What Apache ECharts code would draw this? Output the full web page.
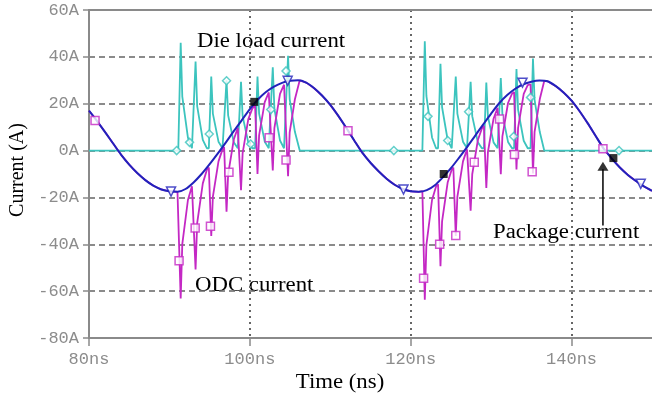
<!DOCTYPE html>
<html><head><meta charset="utf-8">
<script src="https://cdn.jsdelivr.net/npm/echarts@6/dist/echarts.min.js"></script>
<style>html,body{margin:0;padding:0;background:#fff}#c{width:652px;height:398px}</style>
</head><body><div id="c"></div>
<script>
// Package current (A) sampled every 1 ns
const pkgTime = [80,81,82,83,84,85,86,87,88,89,90,91,92,93,94,95,96,97,98,99,100,101,102,103,104,105,106,107,108,109,110,111,112,113,114,115,116,117,118,119,120,121,122,123,124,125,126,127,128,129,130,131,132,133,134,135,136,137,138,139,140,141,142,143,144,145,146,147,148,149,150];
const pkgCurrent = [17.0,12.6,7.9,3.0,-1.8,-6.0,-9.6,-12.6,-15.0,-16.6,-17.4,-17.6,-16.4,-13.6,-10.0,-5.8,-1.3,3.4,8.3,13.0,17.7,21.8,25.0,27.3,28.9,29.8,30.0,29.0,26.6,23.4,19.5,14.8,9.6,4.2,-1.0,-5.2,-8.8,-12.0,-14.6,-16.4,-17.4,-17.6,-16.9,-14.8,-11.4,-7.5,-3.1,1.5,6.3,11.1,15.8,20.2,23.7,26.4,28.3,29.4,29.9,29.6,27.6,24.8,21.3,16.8,11.7,6.2,0.8,-3.4,-7.2,-10.4,-13.0,-15.3,-17.2];

// Die load current (A)
const dieTime = [80,
 91.1,91.4,91.6,92.3,92.8, 92.95,93.25,93.45,94.15,94.65, 94.9,95.2,95.4,96.1,96.6, 96.8,97.1,97.3,98.0,98.5,
 98.6,98.9,99.1,99.8,100.3, 100.65,100.95,101.15,101.85,102.35, 102.55,102.85,103.05,103.75,104.25, 104.45,104.75,104.95,105.6,106.2,
 121.45,121.75,121.95,122.65,123.15, 123.4,123.7,123.9,124.6,125.1, 125.3,125.6,125.8,126.5,127.0, 127.15,127.45,127.65,128.35,128.85,
 129.1,129.4,129.6,130.3,130.8, 130.9,131.2,131.4,132.1,132.6, 132.85,133.15,133.35,134.05,134.55, 134.9,135.2,135.4,136.05,136.6,
 150];
const dieCurrent = [0,
 0,46,23,5.5,1, 1,38,19,4.6,1, 1,31.6,15.8,3.8,1, 1,30,15,3.6,1,
 1,29.4,14.7,3.5,1, 1,31.6,15.8,3.8,1, 1,35.5,17.8,4.3,1, 1,40.5,22,8,0,
 0,46.6,23.3,5.6,1, 1,37,18.5,4.4,1, 1,31.6,15.8,3.8,1, 1,29.4,14.7,3.5,1,
 1,29,14.5,3.5,1, 1,31,15.5,3.7,1, 1,34.8,17.4,4.2,1, 1,39.3,21.6,7.9,0,
 0];

// ODC current (A)
const odcTime = [80,81,82,83,84,85,86,87,88,89,90,91,
 91.1,91.4,91.6,92.3,92.8, 92.95,93.25,93.45,94.15,94.65, 94.9,95.2,95.4,96.1,96.6, 96.8,97.1,97.3,98.0,98.5,
 98.6,98.9,99.1,99.8,100.3, 100.65,100.95,101.15,101.85,102.35, 102.55,102.85,103.05,103.75,104.25, 104.45,104.75,104.95,105.6,106.2,
 107,108,109,110,111,112,113,114,115,116,117,118,119,120,121,
 121.45,121.75,121.95,122.65,123.15, 123.4,123.7,123.9,124.6,125.1, 125.3,125.6,125.8,126.5,127.0, 127.15,127.45,127.65,128.35,128.85,
 129.1,129.4,129.6,130.3,130.8, 130.9,131.2,131.4,132.1,132.6, 132.85,133.15,133.35,134.05,134.55, 134.9,135.2,135.4,136.05,136.6,
 137,138,139,140,141,142,143,144,145,146,147,148,149,150];
const odcCurrent = [17.0,12.6,7.9,3.0,-1.8,-6.0,-9.6,-12.6,-15.0,-16.6,-17.4,-17.6,
 -17.5,-63.1,-39.9,-21.1,-15.2, -14.7,-50.7,-31.0,-14.0,-8.3, -7.2,-36.5,-19.8,-4.6,0.5, 1.5,-26.1,-10.1,4.7,9.7,
 10.1,-16.9,-1.2,13.3,17.9, 19.4,-10.0,6.5,20.7,24.8, 25.3,-8.5,9.6,24.2,28.1, 28.3,-10.9,7.8,21.9,30.0,
 29.0,26.6,23.4,19.5,14.8,9.6,4.2,-1.0,-5.2,-8.8,-12.0,-14.6,-16.4,-17.4,-17.6,
 -17.3,-63.7,-40.3,-21.1,-15.3, -14.4,-49.4,-30.2,-13.5,-8.1, -7.2,-36.5,-19.8,-4.6,0.5, 1.2,-25.7,-10.1,4.5,9.4,
 10.6,-16.0,-0.6,13.6,18.3, 18.8,-10.1,6.1,20.3,24.3, 25.0,-8.1,9.7,24.2,27.9, 28.3,-9.8,8.0,22.0,29.7,
 29.6,27.6,24.8,21.3,16.8,11.7,6.2,0.8,-3.4,-7.2,-10.4,-13.0,-15.3,-17.2];

// Trace markers
const pkgMarkTime = [90.2,104.7,119.1,133.9,148.6];
const pkgMarkValue = [-17.5,29.8,-16.6,29.0,-14.2];
const blackMarkTime = [100.55,124.1,145.2];
const blackMarkValue = [20.8,-10.0,-3.2];
const odcMarkTime = [80.75,91.2,93.2,95.1,97.4,102.4,104.5,112.2,121.6,123.6,125.6,127.9,131.05,132.9,135.1,143.9];
const odcMarkValue = [12.8,-47,-33,-32.3,-9.2,5.5,-4,8.5,-54.5,-40,-36.2,-5,13.5,-1.7,-9,0.8];
const dieMarkTime = [90.9,92.5,94.95,97.1,100.1,102.6,104.5,117.9,122.15,124.6,127.2,132.8,134.9,145.9];
const dieMarkValue = [0,3.5,7.1,29.8,2.8,17.5,34,0,14.6,4.3,16.6,6,22.7,0];

// Annotation arrow (time, current)
const arrowTime = 143.9;
const arrowFrom = -32;
const arrowTo = -8.0;

const zip = (a,b) => a.map((t,i)=>[t,b[i]]);
const CYAN='#3cc4be', MAG='#c428c4', BLUE='#2222bb', AX='#8a8a8a', GRID='#666';

const chart = echarts.init(document.getElementById('c'), null, {renderer:'canvas'});
chart.setOption({
  animation:false,
  backgroundColor:'#fff',
  grid:{left:89,right:0,top:10,bottom:60},
  xAxis:[{
    type:'value',min:80,max:150,interval:20,
    axisLine:{onZero:false,lineStyle:{color:AX,width:2}},
    axisTick:{length:8,lineStyle:{color:AX,width:1.5}},
    axisLabel:{formatter:v=>v+'ns',color:'#8c8c8c',fontFamily:'Liberation Mono',fontSize:17,margin:13,showMaxLabel:false},
    splitLine:{show:true,showMinLine:false,showMaxLine:false,lineStyle:{color:GRID,type:[2,4],width:2}}
  },{
    type:'value',position:'top',min:80,max:150,
    axisLine:{onZero:false,lineStyle:{color:AX,width:2}},
    axisTick:{show:false},axisLabel:{show:false},splitLine:{show:false}
  }],
  yAxis:{
    type:'value',min:-80,max:60,interval:20,
    axisLine:{show:true,onZero:false,lineStyle:{color:AX,width:2}},
    axisTick:{show:true,length:6,lineStyle:{color:AX,width:1.5}},
    axisLabel:{formatter:v=>v+'A',color:'#8c8c8c',fontFamily:'Liberation Mono',fontSize:17,margin:10},
    splitLine:{show:true,showMinLine:false,showMaxLine:false,lineStyle:{color:GRID,type:[6,4],width:1.5}}
  },
  series:[
    {type:'line',name:'Die load current',data:zip(dieTime,dieCurrent),showSymbol:false,
     lineStyle:{color:CYAN,width:1.8},z:2,silent:true},
    {type:'line',name:'ODC current',data:zip(odcTime,odcCurrent),showSymbol:false,
     lineStyle:{color:MAG,width:1.8},z:3,silent:true},
    {type:'line',name:'Package current',data:zip(pkgTime,pkgCurrent),showSymbol:false,smooth:0.3,
     lineStyle:{color:BLUE,width:2},z:4,silent:true},
    {type:'scatter',data:zip(dieMarkTime,dieMarkValue),symbol:'diamond',symbolSize:8,
     itemStyle:{color:'#fff',borderColor:CYAN,borderWidth:1.5},z:5,silent:true},
    {type:'scatter',data:zip(odcMarkTime,odcMarkValue),symbol:'rect',symbolSize:8,
     itemStyle:{color:'#fff',borderColor:MAG,borderWidth:1.5},z:6,silent:true},
    {type:'scatter',data:zip(pkgMarkTime,pkgMarkValue),symbol:'triangle',symbolRotate:180,symbolSize:9,
     itemStyle:{color:'#fff',borderColor:BLUE,borderWidth:1.5},z:7,silent:true},
    {type:'scatter',data:zip(blackMarkTime,blackMarkValue),symbol:'rect',symbolSize:8,
     itemStyle:{color:'#000'},z:7,silent:true},
    {type:'line',data:[[arrowTime,arrowFrom],[arrowTime,arrowTo]],showSymbol:false,
     lineStyle:{color:'#000',width:1.5},z:8,silent:true},
    {type:'scatter',data:[[arrowTime,arrowTo]],symbol:'triangle',symbolSize:[11,9],symbolOffset:[0,-3],
     itemStyle:{color:'#000'},z:8,silent:true}
  ],
  graphic:[
    {type:'text',x:197,y:42,scaleX:1.14,style:{text:'Die load current',font:'20px "Liberation Serif"',fill:'#000',align:'left',verticalAlign:'middle'}},
    {type:'text',x:195,y:286,scaleX:1.14,style:{text:'ODC current',font:'20px "Liberation Serif"',fill:'#000',align:'left',verticalAlign:'middle'}},
    {type:'text',x:493,y:233,scaleX:1.14,style:{text:'Package current',font:'20px "Liberation Serif"',fill:'#000',align:'left',verticalAlign:'middle'}},
    {type:'text',x:340,y:383,scaleX:1.14,style:{text:'Time (ns)',font:'20px "Liberation Serif"',fill:'#000',align:'center',verticalAlign:'middle'}},
    {type:'text',x:18,y:170,rotation:Math.PI/2,style:{text:'Current (A)',font:'20px "Liberation Serif"',fill:'#000',align:'center',verticalAlign:'middle'}}
  ]
});
</script>
</body></html>
